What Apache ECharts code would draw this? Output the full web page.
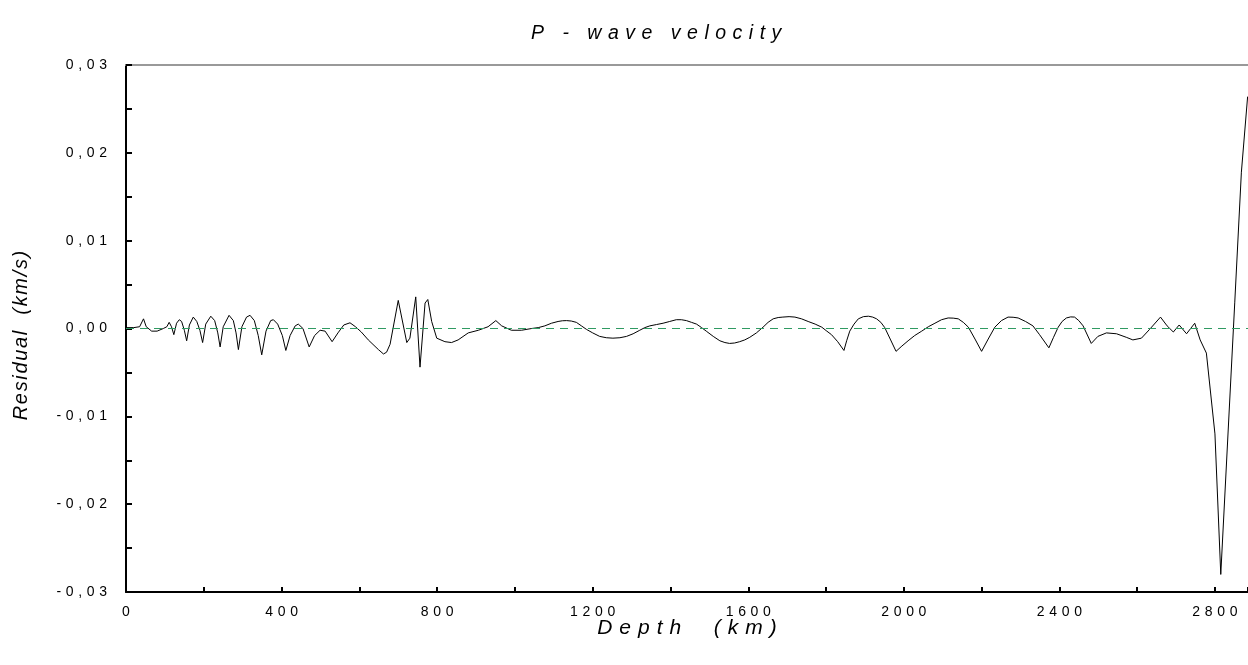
<!DOCTYPE html>
<html>
<head>
<meta charset="utf-8">
<script src="https://cdn.jsdelivr.net/npm/echarts@6/dist/echarts.min.js"></script>
<style>
html,body{margin:0;padding:0;background:#fff;}
#chart{width:1248px;height:665px;}
</style>
</head>
<body>
<div id="chart"></div>
<script>
// ---- data ----
const depths = [0, 20, 35, 45, 52, 66, 80, 96, 105, 111, 117, 123, 130, 137, 143, 150, 156, 163, 173, 182, 190, 197, 205, 218, 228, 236, 242, 250, 265, 276, 283, 289, 298, 310, 319, 330, 340, 349, 360, 372, 379, 390, 402, 411, 422, 435, 443, 455, 471, 485, 499, 512, 530, 545, 560, 576, 590, 605, 623, 649, 662, 670, 679, 700, 722, 730, 745, 756, 769, 776, 786, 799, 820, 837, 854, 880, 906, 931, 951, 966, 991, 1017,
  1043, 1060, 1077, 1094, 1111, 1122, 1133, 1145, 1158, 1171, 1184, 1200, 1218, 1235, 1252, 1270, 1287, 1304, 1321, 1334, 1347, 1364, 1381, 1398, 1415, 1428, 1441, 1454, 1467, 1480, 1492, 1510, 1527, 1540, 1552, 1565, 1578, 1591, 1604, 1621, 1638, 1651, 1664, 1677, 1689, 1705, 1720, 1737, 1754, 1772, 1789, 1802, 1814, 1830, 1846, 1853, 1861, 1872, 1883, 1896, 1909, 1920, 1930, 1941, 1951, 1965, 1980, 1995, 2011, 2028, 2046, 2063, 2080, 2097, 2114, 2127, 2140, 2153, 2166, 2183, 2200, 2217, 2234, 2251, 2268, 2281, 2294, 2313, 2332, 2349, 2373, 2385, 2397, 2407, 2418, 2429, 2439, 2450, 2461, 2482, 2499, 2521, 2547, 2572, 2589, 2611, 2632, 2660, 2677, 2693, 2708, 2727, 2748, 2762, 2778, 2800, 2815, 2851, 2868, 2884];
const residuals = [0.0001, 0.0001, 0.0002, 0.0011, 0.0002, -0.0003, -0.0003, 0.0, 0.0002, 0.0007, 0.0002, -0.0007, 0.0006, 0.0010, 0.0008, -0.0002, -0.0014, 0.0004, 0.0013, 0.0008, -0.0002, -0.0016, 0.0005, 0.0014, 0.0009, -0.0005, -0.0021, 0.0002, 0.0015, 0.0009, -0.0005, -0.0024, 0.0002, 0.0013, 0.0015, 0.0009, -0.0008, -0.0030, -0.0003, 0.0009, 0.0010, 0.0005, -0.0008, -0.0025, -0.0008, 0.0003, 0.0005, 0.0, -0.0021, -0.0008, -0.0002, -0.0003, -0.0015, -0.0005, 0.0004, 0.00065, 0.0002, -0.0004, -0.0013, -0.0024, -0.0029, -0.0027, -0.0018, 0.0032, -0.0016, -0.0011, 0.0036, -0.0044, 0.0029, 0.0033, 0.0008, -0.0011, -0.0015, -0.0016, -0.0013, -0.0005, -0.0002, 0.0002, 0.0009, 0.0003, -0.0002, -0.0002,
  0.0, 0.0001, 0.0003, 0.0006, 0.0008, 0.00088, 0.0009, 0.00085, 0.0007, 0.0003, -0.0001, -0.0005, -0.0009, -0.00105, -0.0011, -0.00105, -0.0009, -0.0006, -0.0002, 0.0001, 0.0003, 0.00045, 0.0006, 0.0008, 0.0010, 0.0010, 0.0009, 0.0007, 0.0005, 0.0001, -0.0003, -0.0009, -0.0014, -0.0016, -0.0017, -0.00165, -0.0015, -0.0013, -0.0010, -0.0005, 0.00015, 0.0007, 0.0011, 0.00125, 0.0013, 0.00135, 0.0013, 0.0011, 0.0008, 0.0005, 0.00015, -0.0003, -0.0007, -0.0015, -0.0025, -0.0014, -0.0003, 0.0005, 0.0011, 0.00135, 0.0014, 0.0013, 0.0011, 0.0007, 0.0001, -0.0012, -0.0026, -0.0020, -0.0014, -0.0008, -0.0003, 0.0002, 0.0006, 0.0010, 0.0012, 0.00118, 0.0011, 0.0007, 0.00015, -0.0012, -0.0026, -0.0012, 0.00015, 0.0009, 0.0013, 0.00128, 0.0012, 0.0008, 0.0003, -0.0007, -0.0022, -0.0010, 0.00015, 0.0008, 0.0012, 0.00132, 0.0013, 0.0009, 0.0003, -0.0017, -0.0009, -0.0005, -0.0006, -0.0010, -0.0013, -0.0011, -0.0001, 0.0013, 0.0003, -0.0004, 0.0004, -0.0006, 0.0006, -0.0013, -0.0028, -0.0120, -0.0280, 0.0030, 0.0178, 0.0264];
const xTickStep = 400;
const yTickStep = 0.01;
const titleText = 'P - wave velocity';
const xName = 'Depth  (km)';
const yName = 'Residual  (km/s)';

const SP = '\u2004';
const HAIR = '\u200A';
const spaced = (s, sep) => s.split('').join(sep);
const fontFam = "'Liberation Sans', Arial, sans-serif";

const chart = echarts.init(document.getElementById('chart'));
chart.setOption({
  animation: false,
  backgroundColor: '#ffffff',
  title: {
    text: spaced(titleText, SP),
    left: 526, top: 19,
    textStyle: {fontFamily: fontFam, fontSize: 19.5, fontStyle: 'italic', fontWeight: 'normal', color: '#000'}
  },
  grid: {left: 126, right: 0, top: 65, bottom: 73, containLabel: false},
  xAxis: [{
    type: 'value', min: 0, max: 2885, interval: xTickStep,
    name: spaced(xName, SP), nameLocation: 'middle', nameGap: 26, nameMoveOverlap: false,
    nameTextStyle: {fontFamily: fontFam, fontSize: 21, fontStyle: 'italic', color: '#000', verticalAlign: 'top'},
    axisLine: {onZero: false, lineStyle: {color: '#000', width: 2}},
    axisTick: {inside: true, length: 5, lineStyle: {color: '#000', width: 2}},
    minorTick: {show: true, splitNumber: 2, length: 5, lineStyle: {color: '#000', width: 2}},
    splitLine: {show: false},
    axisLabel: {showMaxLabel: false, margin: 13, fontFamily: fontFam, fontSize: 14, color: '#000',
      formatter: v => spaced(String(v), SP)}
  }, {
    type: 'value', position: 'top', min: 0, max: 2885,
    axisLine: {onZero: false, lineStyle: {color: '#999', width: 2}},
    axisTick: {show: false}, axisLabel: {show: false}, splitLine: {show: false}
  }],
  yAxis: {
    type: 'value', min: -0.03, max: 0.03, interval: yTickStep,
    name: spaced(yName, HAIR), nameLocation: 'middle', nameGap: 95, nameMoveOverlap: false,
    nameTextStyle: {fontFamily: fontFam, fontSize: 20, fontStyle: 'italic', color: '#000', padding: [0, 14, 0, 0]},
    axisLine: {onZero: false, lineStyle: {color: '#000', width: 2}},
    axisTick: {inside: true, length: 6, lineStyle: {color: '#000', width: 2}},
    minorTick: {show: true, splitNumber: 2, length: 6, lineStyle: {color: '#000', width: 2}},
    splitLine: {show: false},
    axisLabel: {margin: 19, fontFamily: fontFam, fontSize: 14, color: '#000',
      formatter: v => {
        let s = Math.abs(v) < 1e-9 ? '0.00' : v.toFixed(2);
        return spaced(s.replace('.', ','), SP);
      }}
  },
  series: [{
    type: 'line',
    data: depths.map((d, i) => [d, residuals[i]]),
    showSymbol: false, symbol: 'none',
    lineStyle: {color: '#000', width: 1},
    markLine: {
      silent: true, symbol: ['none', 'none'], label: {show: false},
      lineStyle: {color: '#2f9a62', width: 1.2, type: [8, 6]},
      data: [{yAxis: 0}]
    }
  }]
});
</script>
</body>
</html>
